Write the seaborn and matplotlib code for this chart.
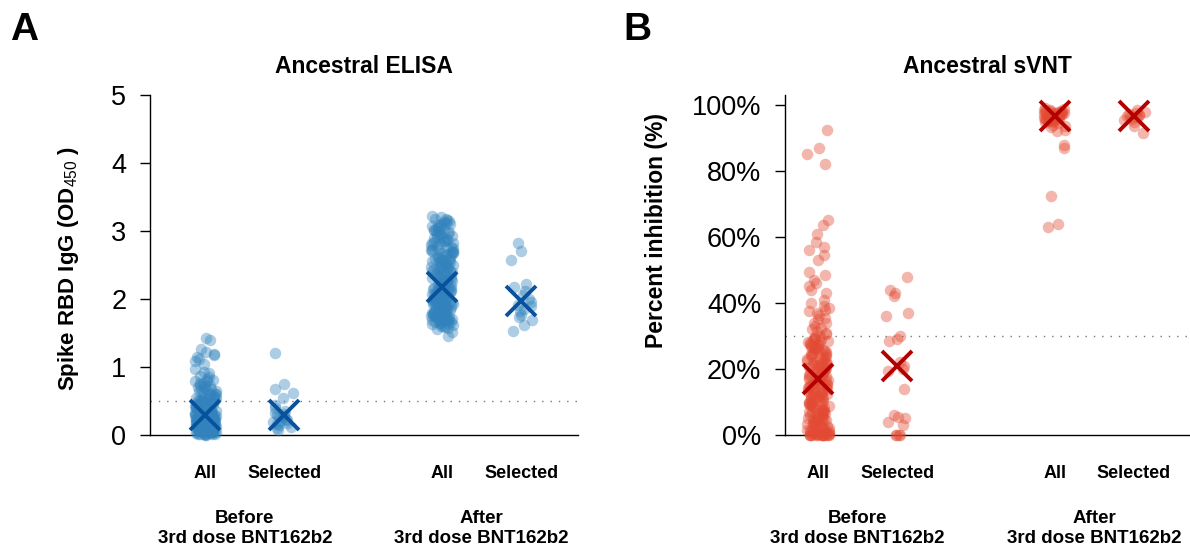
import numpy as np
import pandas as pd
import seaborn as sns
import matplotlib
matplotlib.use("Agg")
import matplotlib.pyplot as plt
from matplotlib.transforms import blended_transform_factory

# values (OD450 and % inhibition)
elisa_before_all = [1.43, 1.40, 1.27, 1.22, 1.19, 1.17, 1.15, 1.12, 1.09, 1.04, 0.97, 0.93, 0.91,
                    0.87, 0.86, 0.83, 0.80, 0.79, 0.77, 0.76, 0.74, 0.72, 0.71, 0.70, 0.68, 0.67,
                    0.66, 0.64, 0.63, 0.61, 0.61, 0.59, 0.58, 0.57, 0.56, 0.54, 0.54, 0.53, 0.52,
                    0.50, 0.50, 0.49, 0.48, 0.47, 0.47, 0.46, 0.44, 0.44, 0.43, 0.42, 0.42, 0.41,
                    0.40, 0.39, 0.38, 0.38, 0.37, 0.36, 0.35, 0.35, 0.34, 0.33, 0.33, 0.32, 0.31,
                    0.30, 0.30, 0.29, 0.28, 0.28, 0.27, 0.26, 0.26, 0.25, 0.24, 0.24, 0.23, 0.22,
                    0.22, 0.21, 0.20, 0.20, 0.19, 0.18, 0.18, 0.17, 0.16, 0.16, 0.15, 0.14, 0.14,
                    0.13, 0.12, 0.12, 0.11, 0.10, 0.10, 0.09, 0.08, 0.08, 0.07, 0.06, 0.06, 0.05,
                    0.04, 0.04, 0.03, 0.02, 0.02, 0.01, 0.00, 0.36, 0.29, 0.23, 0.17, 0.13, 0.07,
                    0.04, 0.27, 0.31, 0.15, 0.11, 0.06, 0.03, 0.14, 0.21, 0.25, 0.34, 0.39, 0.43,
                    0.46, 0.52, 0.27, 0.19, 0.09, 0.02, 0.32, 0.24, 0.18, 0.12, 0.05, 0.41, 0.37,
                    0.01, 0.03, 0.05, 0.08, 0.10, 0.13, 0.15, 0.18, 0.21, 0.23, 0.26, 0.29, 0.32,
                    0.35, 0.38, 0.40, 0.45, 0.49, 0.55, 0.60, 0.02, 0.06, 0.09, 0.11, 0.16, 0.19,
                    0.22, 0.25, 0.28, 0.31, 0.34, 0.37, 0.42, 0.48, 0.00, 0.04, 0.07, 0.12, 0.14,
                    0.17, 0.20, 0.24, 0.27, 0.30, 0.33, 0.36, 0.39, 0.44, 0.51, 0.65, 0.72, 0.81]
elisa_before_sel = [1.20, 0.75, 0.68, 0.62, 0.55, 0.44, 0.40, 0.36, 0.33, 0.30, 0.28, 0.26,
                    0.24, 0.22, 0.20, 0.18, 0.16, 0.14, 0.12, 0.10, 0.08, 0.27, 0.31, 0.19]
elisa_after_all = [3.22, 3.20, 3.18, 3.17, 3.15, 3.13, 3.12, 3.10, 3.08, 3.07, 3.05, 3.03, 3.02,
                   3.00, 2.98, 2.96, 2.95, 2.93, 2.91, 2.90, 2.88, 2.86, 2.85, 2.83, 2.81, 2.79,
                   2.78, 2.76, 2.74, 2.73, 2.71, 2.69, 2.68, 2.66, 2.64, 2.63, 2.61, 2.59, 2.58,
                   2.56, 2.54, 2.53, 2.51, 2.49, 2.48, 2.46, 2.44, 2.43, 2.41, 2.39, 2.38, 2.36,
                   2.34, 2.33, 2.31, 2.29, 2.28, 2.26, 2.25, 2.23, 2.22, 2.20, 2.19, 2.17, 2.16,
                   2.14, 2.13, 2.12, 2.10, 2.09, 2.07, 2.06, 2.05, 2.03, 2.02, 2.01, 1.99, 1.98,
                   1.97, 1.95, 1.94, 1.93, 1.92, 1.90, 1.89, 1.88, 1.87, 1.86, 1.84, 1.83, 1.82,
                   1.81, 1.80, 1.78, 1.77, 1.76, 1.75, 1.74, 1.73, 1.71, 1.70, 1.69, 1.68, 1.66,
                   1.65, 1.63, 1.61, 1.59, 1.56, 1.52, 1.46, 3.01, 2.91, 2.82, 2.71, 2.62, 2.49,
                   2.41, 2.32, 2.21, 2.11, 2.04, 1.96, 1.91, 1.85, 1.79, 1.72, 1.67, 1.62, 2.26,
                   2.16, 2.07, 1.99, 1.93, 1.86, 1.81, 1.76, 2.37, 2.47, 2.57, 2.67, 1.73, 1.78,
                   1.83, 1.88, 1.94, 2.00, 2.03, 2.09, 2.13, 2.18, 1.69, 1.84, 1.98, 2.24, 2.52,
                   3.16, 3.09, 3.04, 2.97, 2.89, 2.84, 2.77, 2.72, 2.65, 2.60, 2.55, 2.50, 2.45,
                   2.40, 2.35, 2.30, 2.27, 2.23, 2.15, 2.08, 2.01, 1.96, 1.91, 1.87, 1.82, 1.77,
                   1.74, 1.71, 1.67, 1.64, 1.60, 3.11, 2.99, 2.87, 2.75, 2.69, 2.58, 2.44, 2.35,
                   2.27, 2.19, 2.14, 2.06, 1.95, 1.89, 1.80, 1.75, 1.70, 1.66, 1.63, 1.58]
elisa_after_sel = [2.83, 2.70, 2.58, 2.18, 2.12, 2.06, 2.00, 1.95, 1.91, 1.86, 1.82,
                   1.77, 1.73, 1.69, 1.62, 1.53, 2.22, 1.90]
svnt_before_all = [92.5, 87.0, 85.0, 82.0, 65.0, 63.5, 61.0, 58.5, 57.0, 56.0, 54.5, 53.0,
                   49.5, 48.5, 46.0, 45.0, 44.0, 43.0, 40.0, 39.0, 38.0, 37.5, 37.0, 35.5,
                   35.0, 34.0, 33.0, 32.5, 32.0, 31.0, 30.5, 30.0, 29.4, 29.0, 28.3, 27.9,
                   27.2, 26.8, 26.1, 25.7, 25.2, 24.6, 24.3, 23.8, 23.1, 22.7, 22.2, 21.6,
                   21.3, 20.9, 20.2, 19.8, 19.4, 18.9, 18.3, 18.0, 17.6, 17.1, 16.7, 16.2,
                   15.9, 15.3, 15.0, 14.6, 14.1, 13.8, 13.2, 12.9, 12.4, 12.0, 11.7, 11.1,
                   10.8, 10.3, 9.9, 9.4, 9.1, 8.6, 8.2, 7.9, 7.3, 7.0, 6.6, 6.1, 5.8, 5.3,
                   5.0, 4.6, 4.1, 3.8, 3.3, 3.0, 2.6, 2.1, 1.8, 1.3, 1.0, 0.6, 0.3, 0.0,
                   0.0, 0.0, 0.0, 0.0, 0.0, 0.0, 0.0, 0.0, 0.2, 0.5, 0.8, 1.5, 2.3, 3.6,
                   4.4, 5.6, 6.8, 7.7, 8.8, 9.7, 10.6, 11.4, 12.6, 13.5, 14.4, 15.6, 16.4,
                   17.3, 18.6, 19.6, 20.6, 21.8, 22.9, 24.0, 25.4, 26.5, 27.6, 28.8, 22.4,
                   18.2, 14.8, 11.9, 8.4, 5.2, 2.8, 1.2, 0.4, 16.9, 13.1, 10.1, 6.4, 3.2,
                   19.1, 23.4, 26.3, 28.1, 12.2, 9.2, 4.8, 2.0, 0.7, 20.4, 15.4, 7.4,
                   29.8, 28.6, 27.4, 26.7, 25.9, 24.8, 23.6, 22.1, 21.1, 20.0, 18.7, 17.8,
                   16.5, 15.2, 14.2, 13.0, 11.6, 10.4, 9.6, 8.0, 6.9, 5.9, 4.3, 3.1, 1.6,
                   0.9, 0.1, 0.0, 0.0, 0.0, 0.0, 2.4, 4.9, 7.1, 9.3, 12.3, 14.9, 17.4,
                   19.7, 21.9, 24.4, 26.0, 27.3, 29.2, 31.5, 33.8, 36.5, 38.6, 41.0, 47.0]
svnt_before_sel = [48.0, 44.0, 43.0, 42.0, 37.0, 36.0, 30.0, 29.0, 28.5, 22.0, 21.0, 20.0,
                   19.5, 14.0, 6.0, 5.0, 5.5, 4.0, 3.0, 0.0, 0.0, 0.0, 0.0]
svnt_after_all = [99.0, 98.8, 98.5, 98.2, 98.0, 97.8, 97.6, 97.4, 97.2, 97.0, 96.8, 96.6,
                  96.4, 96.2, 96.0, 95.8, 95.6, 95.4, 95.2, 95.0, 94.7, 94.4, 94.0, 93.5,
                  98.6, 97.9, 97.3, 96.7, 96.1, 95.5, 94.9, 93.2, 92.5, 92.0, 88.0, 87.0,
                  72.5, 64.0, 63.0, 97.5, 96.9, 96.3, 95.7, 98.3, 97.1, 96.5, 97.7, 95.9,
                  98.1, 96.0, 97.0, 95.3]
svnt_after_sel = [98.5, 98.0, 97.6, 97.2, 96.8, 96.5, 96.2, 95.8, 95.4, 94.8, 93.5, 91.5,
                  97.0, 96.4]
elisa_centers = [0.30, 0.30, 2.18, 1.97]
svnt_centers = [17.0, 21.0, 96.5, 96.5]

group_names = ["All", "Selected", "All", "Selected"]
period_names = ["Before\n3rd dose BNT162b2", "After\n3rd dose BNT162b2"]

positions = [0, 1, 3, 4]
sns.set_style("ticks")
plt.rcParams["font.family"] = ["Liberation Sans", "DejaVu Sans"]
plt.rcParams["mathtext.fontset"] = "custom"
plt.rcParams["mathtext.rm"] = "Liberation Sans"
plt.rcParams["text.color"] = "black"
plt.rcParams["axes.labelcolor"] = "black"
plt.rcParams["xtick.color"] = "black"
plt.rcParams["ytick.color"] = "black"


def long_table(groups):
    rows = []
    for pos, vals in zip(positions, groups):
        for v in vals:
            rows.append({"pos": pos, "value": v})
    return pd.DataFrame(rows)


df_elisa = long_table([elisa_before_all, elisa_before_sel, elisa_after_all, elisa_after_sel])
df_svnt = long_table([svnt_before_all, svnt_before_sel, svnt_after_all, svnt_after_sel])

fig = plt.figure(figsize=(11.9, 5.5), dpi=100)
ax_a = fig.add_axes([150 / 1190, 1 - 435 / 550, 428 / 1190, 340 / 550])
ax_b = fig.add_axes([785 / 1190, 1 - 435 / 550, 405 / 1190, 340 / 550])

np.random.seed(3)
panels = [
    (ax_a, df_elisa, elisa_centers, "#3182bd", "#08519c", (-0.70, 4.72), (0, 5.0), 0.5),
    (ax_b, df_svnt, svnt_centers, "#e34a33", "#b30000", (-0.42, 4.71), (0, 103), 30),
]
for ax, df, centers, col, dark, xl, yl, cutoff in panels:
    sns.stripplot(data=df, x="pos", y="value", native_scale=True, jitter=0.14,
                  color=col, alpha=0.4, size=8.3, linewidth=0, ax=ax)
    for c in ax.collections:
        c.set_clip_on(False)
    ax.plot(positions, centers, linestyle="none", marker="x", ms=22, mew=2.8,
            color=dark, zorder=5, clip_on=False)
    ax.axhline(cutoff, color="#777777", lw=1, ls=(0, (1, 5)), zorder=0)
    ax.set_xlim(*xl)
    ax.set_ylim(*yl)
    ax.set_xticks(positions)
    ax.set_xticklabels(group_names, fontsize=13, fontweight="bold")
    ax.tick_params(axis="x", length=0, pad=21.5)
    ax.tick_params(axis="y", length=7, width=1, labelsize=19.5, direction="out", pad=10)
    ax.set_xlabel("")
    for s in ["top", "right"]:
        ax.spines[s].set_visible(False)
    for s in ["left", "bottom"]:
        ax.spines[s].set_color("black")
        ax.spines[s].set_linewidth(1)
    tr = blended_transform_factory(ax.transData, ax.transAxes)
    for mid, name in zip([0.5, 3.5], period_names):
        ax.text(mid, -0.222, name, transform=tr, ha="center", va="top",
                fontsize=13.5, fontweight="bold", linespacing=1.2)

ax_a.set_yticks([0, 1, 2, 3, 4, 5])
ax_a.set_ylabel("Spike RBD IgG (OD$_{\\mathrm{450}}$ )", fontsize=16, fontweight="bold")
ax_a.yaxis.set_label_coords(-0.162, 0.49)
ax_a.set_title("Ancestral ELISA", fontsize=16.5, fontweight="bold", pad=16)

ax_b.set_yticks([0, 20, 40, 60, 80, 100])
ax_b.set_yticklabels(["0%", "20%", "40%", "60%", "80%", "100%"])
ax_b.set_ylabel("Percent inhibition (%)", fontsize=16.5, fontweight="bold")
ax_b.yaxis.set_label_coords(-0.288, 0.6)
ax_b.set_title("Ancestral sVNT", fontsize=16.5, fontweight="bold", pad=16)

fig.text(10 / 1190, 1 - 12 / 550, "A", fontsize=28, fontweight="bold", ha="left", va="top")
fig.text(623 / 1190, 1 - 12 / 550, "B", fontsize=28, fontweight="bold", ha="left", va="top")

fig.savefig("out.png", dpi=100)
